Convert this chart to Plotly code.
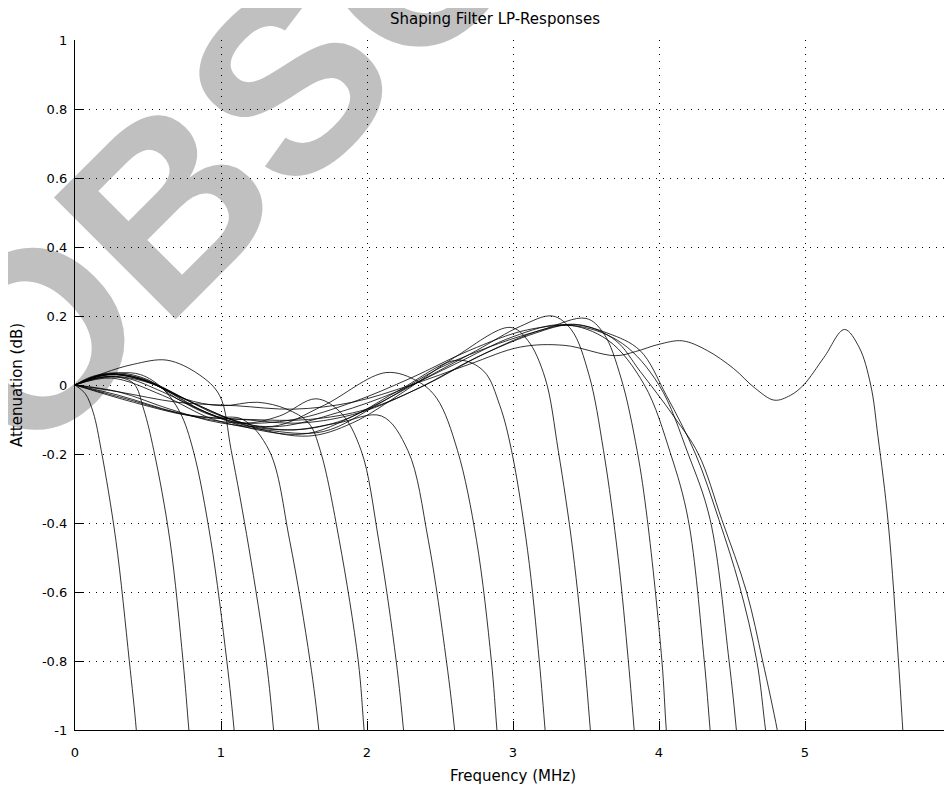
import plotly.graph_objects as go

# ---------------- data ----------------
freq_1 = [0, 0.07, 0.125, 0.18, 0.28, 0.372, 0.42, 0.45]
att_1 = [0, -0.025, -0.08, -0.19, -0.45, -0.8, -1.0, -1.18]

freq_2 = [0, 0.1, 0.25, 0.4, 0.47, 0.54, 0.65, 0.74, 0.78, 0.81]
att_2 = [0, 0.015, 0.025, 0.005, -0.07, -0.19, -0.45, -0.8, -1.0, -1.15]

freq_3 = [0, 0.12, 0.3, 0.45, 0.6, 0.72, 0.81, 0.93, 1.04, 1.09, 1.12]
att_3 = [0, 0.02, 0.035, 0.03, -0.01, -0.08, -0.19, -0.45, -0.8, -1.0, -1.15]

freq_4 = [0, 0.2, 0.4, 0.63, 0.85, 0.99, 1.07, 1.19, 1.31, 1.36, 1.39]
att_4 = [0, 0.035, 0.06, 0.072, 0.03, -0.03, -0.19, -0.47, -0.8, -1.0, -1.15]

freq_5 = [0, 0.12, 0.3, 0.5, 0.7, 0.95, 1.15, 1.33, 1.47, 1.61, 1.67, 1.7]
att_5 = [0, 0.025, 0.035, 0.015, -0.04, -0.09, -0.1, -0.19, -0.45, -0.8, -1.0, -1.15]

freq_6 = [0, 0.12, 0.28, 0.5, 0.75, 1.0, 1.25, 1.45, 1.6, 1.68, 1.81, 1.94, 1.98, 2.01]
att_6 = [0, 0.02, 0.03, 0.01, -0.04, -0.06, -0.05, -0.07, -0.11, -0.19, -0.45, -0.8, -1.0, -1.15]

freq_7 = [0, 0.15, 0.3, 0.55, 0.85, 1.15, 1.4, 1.65, 1.82, 1.96, 2.08, 2.2, 2.25, 2.28]
att_7 = [0, 0.025, 0.03, 0.0, -0.07, -0.11, -0.09, -0.04, -0.08, -0.19, -0.45, -0.8, -1.0, -1.15]

freq_8 = [0, 0.15, 0.35, 0.6, 0.9, 1.2, 1.5, 1.8, 2.1, 2.28, 2.42, 2.544, 2.6, 2.63]
att_8 = [0, 0.02, 0.02, -0.02, -0.08, -0.12, -0.13, -0.11, -0.09, -0.19, -0.45, -0.8, -1.0, -1.15]

freq_9 = [0, 0.18, 0.4, 0.7, 1.0, 1.35, 1.7, 2.13, 2.35, 2.48, 2.62, 2.75, 2.852, 2.89, 2.92]
att_9 = [0, 0.03, 0.025, -0.03, -0.09, -0.12, -0.06, 0.036, 0.01, -0.04, -0.19, -0.45, -0.8, -1.0, -1.15]

freq_10 = [0, 0.2, 0.45, 0.8, 1.15, 1.5, 1.85, 2.2, 2.62, 2.8, 2.91, 2.99, 3.1, 3.18, 3.22, 3.25]
att_10 = [0, 0.03, 0.02, -0.05, -0.11, -0.13, -0.1, -0.02, 0.072, 0.04, -0.06, -0.19, -0.48, -0.8, -1.0, -1.15]

freq_11 = [0, 0.2, 0.5, 0.85, 1.2, 1.6, 1.9, 2.25, 2.6, 2.98, 3.1, 3.22, 3.31, 3.41, 3.49, 3.53, 3.56]
att_11 = [0, 0.03, 0.01, -0.06, -0.12, -0.148, -0.11, -0.02, 0.08, 0.167, 0.13, 0.02, -0.19, -0.48, -0.8, -1.0, -1.15]

freq_12 = [0, 0.25, 0.55, 0.9, 1.25, 1.6, 2.0, 2.4, 2.75, 3.05, 3.27, 3.4, 3.52, 3.62, 3.72, 3.79, 3.83, 3.86]
att_12 = [0, 0.025, 0.0, -0.08, -0.13, -0.14, -0.07, 0.02, 0.1, 0.17, 0.2, 0.16, 0.03, -0.19, -0.5, -0.8, -1.0, -1.15]

freq_13 = [0, 0.25, 0.6, 0.95, 1.3, 1.7, 2.1, 2.5, 2.9, 3.2, 3.5, 3.62, 3.74, 3.85, 3.92, 4.02, 4.05, 4.08]
att_13 = [0, 0.02, -0.03, -0.1, -0.13, -0.135, -0.05, 0.05, 0.12, 0.16, 0.193, 0.15, 0.02, -0.19, -0.39, -0.8, -1.0, -1.15]

freq_14 = [0, 0.3, 0.65, 1.0, 1.4, 1.8, 2.2, 2.6, 3.0, 3.35, 3.65, 3.9, 4.08, 4.2, 4.31, 4.35, 4.38]
att_14 = [0, -0.02, -0.07, -0.11, -0.12, -0.08, -0.02, 0.06, 0.14, 0.175, 0.13, 0.0, -0.2, -0.39, -0.8, -1.0, -1.15]

freq_15 = [0, 0.3, 0.7, 1.1, 1.5, 1.9, 2.3, 2.7, 3.1, 3.45, 3.75, 4.0, 4.2, 4.35, 4.48, 4.53, 4.56]
att_15 = [0, -0.03, -0.08, -0.11, -0.1, -0.05, 0.02, 0.1, 0.16, 0.17, 0.12, 0.0, -0.2, -0.39, -0.8, -1.0, -1.15]

freq_16 = [0, 0.35, 0.75, 1.15, 1.55, 1.95, 2.35, 2.75, 3.15, 3.4, 3.65, 3.87, 4.05, 4.25, 4.41, 4.55, 4.67, 4.73, 4.77]
att_16 = [0, -0.04, -0.085, -0.1, -0.11, -0.08, -0.01, 0.08, 0.15, 0.175, 0.15, 0.1, -0.03, -0.2, -0.39, -0.58, -0.8, -1.0, -1.12]

freq_17 = [0, 0.4, 0.8, 1.2, 1.6, 2.0, 2.4, 2.8, 3.2, 3.45, 3.7, 3.87, 4.1, 4.27, 4.43, 4.6, 4.71, 4.81, 4.85]
att_17 = [0, -0.05, -0.09, -0.1, -0.1, -0.07, 0.0, 0.09, 0.16, 0.175, 0.13, 0.04, -0.09, -0.2, -0.39, -0.6, -0.8, -1.0, -1.1]

freq_18 = [0, 0.3, 0.7, 1.1, 1.5, 1.9, 2.3, 2.7, 3.05, 3.35, 3.7, 3.84, 4.0, 4.16, 4.33, 4.51, 4.66, 4.79,
           4.9, 4.99, 5.13, 5.27, 5.37, 5.45, 5.5, 5.57, 5.64, 5.67, 5.7]
att_18 = [0, -0.02, -0.05, -0.06, -0.07, -0.05, 0.0, 0.06, 0.11, 0.115, 0.085, 0.097, 0.118, 0.128, 0.1, 0.048, -0.01, -0.044,
          -0.03, 0.0, 0.08, 0.161, 0.11, 0.0, -0.15, -0.4, -0.8, -1.0, -1.2]

x_tick_values = [0, 1, 2, 3, 4, 5, 6]
x_tick_labels = ["0", "1", "2", "3", "4", "5", "6"]
y_tick_values = [-1, -0.8, -0.6, -0.4, -0.2, 0, 0.2, 0.4, 0.6, 0.8, 1]
y_tick_labels = ["-1", "-0.8", "-0.6", "-0.4", "-0.2", "0", "0.2", "0.4", "0.6", "0.8", "1"]

title_text = "Shaping Filter LP-Responses"
x_title = "Frequency (MHz)"
y_title = "Attenuation (dB)"
watermark_text = "OBSOLETE"

curves = [
    (freq_1, att_1), (freq_2, att_2), (freq_3, att_3), (freq_4, att_4),
    (freq_5, att_5), (freq_6, att_6), (freq_7, att_7), (freq_8, att_8),
    (freq_9, att_9), (freq_10, att_10), (freq_11, att_11), (freq_12, att_12),
    (freq_13, att_13), (freq_14, att_14), (freq_15, att_15), (freq_16, att_16),
    (freq_17, att_17), (freq_18, att_18),
]

# ---------------- figure ----------------
TXT = "DejaVu Sans, Verdana, sans-serif"
BOLD = "Liberation Sans, Arial, Helvetica, sans-serif"
fig = go.Figure()
for f, a in curves:
    fig.add_trace(go.Scatter(
        x=f, y=a, mode="lines",
        line=dict(color="black", width=0.8, shape="spline", smoothing=1.0),
        hoverinfo="skip", showlegend=False,
    ))

# the page adds an 8px body margin, so the figure is 8px smaller than the window
fig.update_layout(
    width=944, height=777,
    margin=dict(l=67, r=1, t=32, b=55, autoexpand=False),
    paper_bgcolor="white", plot_bgcolor="white",
    font=dict(family=TXT, size=13, color="black"),
    showlegend=False,
    title=dict(text=title_text, x=487 / 944, xanchor="center", xref="container",
               y=1 - 10.5 / 777, yanchor="middle", yref="container",
               font=dict(family=TXT, size=15, color="black")),
)

fig.update_xaxes(
    range=[0, 6], tickvals=x_tick_values, ticktext=x_tick_labels,
    ticks="inside", ticklen=9, tickwidth=1, tickcolor="black",
    ticklabelstandoff=10, ticklabeloverflow="allow", automargin=False,
    tickfont=dict(family=TXT, size=13),
    showline=True, linecolor="black", linewidth=1.2,
    showgrid=True, gridcolor="black", gridwidth=1, griddash="1px,6px",
    zeroline=False,
    title=dict(text=x_title, standoff=11, font=dict(family=TXT, size=15)),
)
fig.update_yaxes(
    range=[-1, 1], tickvals=y_tick_values, ticktext=y_tick_labels,
    ticks="inside", ticklen=9, tickwidth=1, tickcolor="black",
    ticklabelstandoff=4, ticklabeloverflow="allow", automargin=False,
    tickfont=dict(family=TXT, size=13),
    showline=True, linecolor="black", linewidth=1.2,
    showgrid=True, gridcolor="black", gridwidth=1, griddash="1px,6px",
    zeroline=False,
    title=dict(text=y_title, standoff=25, font=dict(family=TXT, size=15)),
)

# grey watermark, drawn beneath grid and curves
cx, cy = 0.4102, 1.197
fig.add_shape(
    type="rect", xref="paper", yref="paper",
    x0=cx - 0.001, x1=cx + 0.001, y0=cy - 0.001, y1=cy + 0.001,
    line=dict(width=0), fillcolor="rgba(0,0,0,0)", layer="below",
    label=dict(text=watermark_text, textangle=-45, textposition="middle center",
               font=dict(family=BOLD, size=250, color="#c0c0c0", weight="bold")),
)

fig.write_html("out.html")
